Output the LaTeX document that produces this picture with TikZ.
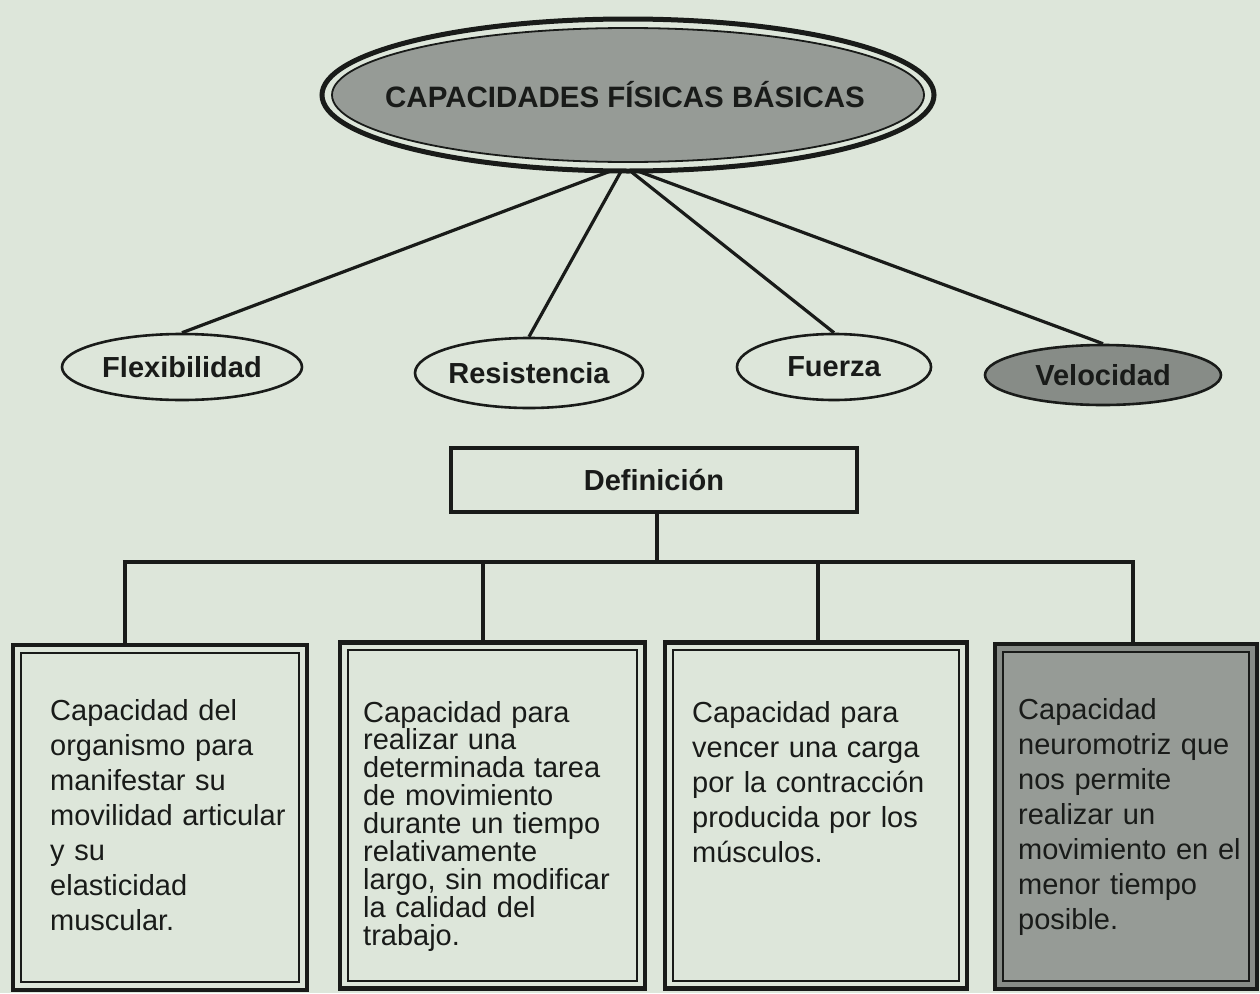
\documentclass[tikz,border=0pt]{standalone}
\usepackage{fontspec}
\setmainfont{Liberation Sans}
\usetikzlibrary{shapes.geometric}
\definecolor{paper}{RGB}{221,230,218}
\definecolor{ink}{RGB}{25,27,25}
\definecolor{tone}{RGB}{150,155,150}
\definecolor{tonedark}{RGB}{135,140,135}
\newcommand{\myboxfontA}{\fontsize{29}{35}\selectfont}
\newcommand{\myboxfontB}{\fontsize{29}{27.9}\selectfont}
\lineskiplimit=-50pt
\tikzset{
  oval/.style={ellipse, draw=ink, line width=2.6pt, inner sep=0pt,
    font=\fontsize{29}{30}\selectfont\bfseries, text=ink},
  conn/.style={draw=ink, line width=3.2pt},
  bar/.style={draw=ink, line width=4.5pt},
  outerbox/.style={rectangle, draw=ink, line width=4.5pt, inner sep=0pt},
  innerline/.style={draw=ink, line width=1.6pt},
  boxtext/.style={anchor=base west, inner sep=0pt, align=left, text=ink,
    font=\myboxfontA},
  boxtextB/.style={boxtext, font=\myboxfontB}
}
\begin{document}
\lineskiplimit=-50pt
\begin{tikzpicture}[x=1pt,y=-1pt]
\useasboundingbox (0,0) rectangle (1260,993);
\fill[paper] (0,0) rectangle (1260,993);

% connectors from the main ellipse
\coordinate (hub) at (624,166);
\node[oval, minimum width=240, minimum height=66] (flex) at (182,367) {Flexibilidad};
\node[oval, minimum width=222, minimum height=70] (res) at (529,373) {Resistencia};
\node[oval, minimum width=194, minimum height=66] (fue) at (834,367) {Fuerza};
\node[oval, fill=tonedark, minimum width=236, minimum height=60] (vel) at (1103,375) {Velocidad};
\draw[conn] (hub) -- (flex.north);
\draw[conn] (hub) -- (res.north);
\draw[conn] (hub) -- (fue.north);
\draw[conn] (hub) -- (vel.north);

% main ellipse (double outline)
\node[ellipse, draw=ink, fill=paper, line width=5pt, minimum width=612, minimum height=152, inner sep=0pt] (top) at (628,95) {};
\node[ellipse, draw=ink, fill=tone, line width=1.8pt, minimum width=592, minimum height=134, inner sep=0pt] (topin) at (top.center) {};
\node[font=\fontsize{29.5}{30}\selectfont\bfseries, text=ink, inner sep=0pt] (title) at (625,95) {CAPACIDADES FÍSICAS BÁSICAS};

% Definicion
\node[outerbox, line width=4pt, minimum width=406, minimum height=64,
  font=\fontsize{29}{30}\selectfont\bfseries, text=ink] (def) at (654,480) {Definición};
\coordinate (j0) at (657,562);
\coordinate (d1) at (125,562);
\coordinate (d2) at (483,562);
\coordinate (d3) at (818,562);
\coordinate (d4) at (1133,562);
\draw[bar] (def.south -| j0) -- (j0);
\draw[bar] ([xshift=-2.25pt]d1) -- ([xshift=2.25pt]d4);

% definition boxes
\node[outerbox, minimum width=294, minimum height=345] (b1) at (160,817.5) {};
\node[outerbox, minimum width=305, minimum height=346] (b2) at (492.5,815.5) {};
\node[outerbox, minimum width=302, minimum height=346] (b3) at (816,815.5) {};
\node[outerbox, fill=tonedark, minimum width=262, minimum height=345] (b4) at (1126,816.5) {};
\draw[bar] (d1) -- (d1 |- b1.north);
\draw[bar] (d2) -- (d2 |- b2.north);
\draw[bar] (d3) -- (d3 |- b3.north);
\draw[bar] (d4) -- (d4 |- b4.north);
\draw[innerline] ([shift={(10,10)}]b1.north west) rectangle ([shift={(-10,-10)}]b1.south east);
\draw[innerline] ([shift={(10,10)}]b2.north west) rectangle ([shift={(-10,-10)}]b2.south east);
\draw[innerline] ([shift={(10,10)}]b3.north west) rectangle ([shift={(-10,-10)}]b3.south east);
\draw[innerline, fill=tone] ([shift={(10,10)}]b4.north west) rectangle ([shift={(-10,-10)}]b4.south east);

\node[boxtext, text width=250] (t1) at (50,720) {Capacidad del\\organismo para\\manifestar su\\movilidad articular\\y su\\elasticidad\\muscular.};
\node[boxtextB, text width=270] (t2) at (363,722) {Capacidad para\\realizar una\\determinada tarea\\de movimiento\\durante un tiempo\\relativamente\\largo, sin modificar\\la calidad del\\trabajo.};
\node[boxtext, text width=270] (t3) at (692,722) {Capacidad para\\vencer una carga\\por la contracción\\producida por los\\músculos.};
\node[boxtext, text width=235] (t4) at (1018,719) {Capacidad\\neuromotriz que\\nos permite\\realizar un\\movimiento en el\\menor tiempo\\posible.};
\end{tikzpicture}
\end{document}
